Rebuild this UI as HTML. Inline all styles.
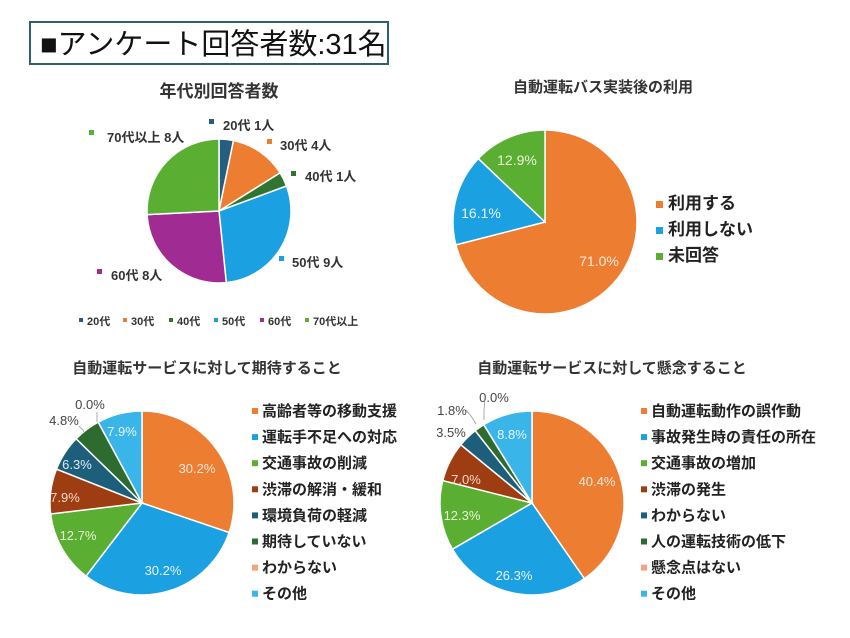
<!DOCTYPE html>
<html><head><meta charset="utf-8">
<style>
body{margin:0;background:#fff;}
svg{display:block;font-family:"Liberation Sans","Noto Sans CJK JP",sans-serif;}
.b{font-weight:bold}
</style></head><body>
<svg id="s" width="850" height="638" viewBox="0 0 850 638" xmlns="http://www.w3.org/2000/svg">
<rect width="850" height="638" fill="#fff"/>
<rect x="30" y="22" width="358" height="42" fill="#fff" stroke="#2F5F6F" stroke-width="2"/>
<text x="40" y="54" font-size="29" fill="#111">■アンケート回答者数:31名</text>
<g id="pies"></g>

<text x="219" y="97" font-size="17" class="b" text-anchor="middle" fill="#333">年代別回答者数</text>
<g font-size="13" class="b" fill="#333">
<rect x="209" y="119" width="5" height="5" fill="#255E7E"/><text x="223" y="130">20代 1人</text>
<rect x="267" y="139" width="5" height="5" fill="#ED7D31"/><text x="280" y="150">30代 4人</text>
<rect x="291" y="171" width="5" height="5" fill="#2F7431"/><text x="305" y="181">40代 1人</text>
<rect x="279" y="256" width="5" height="5" fill="#1BA1E2"/><text x="292" y="267">50代 9人</text>
<rect x="97" y="269" width="5" height="5" fill="#A02B93"/><text x="111" y="280">60代 8人</text>
<rect x="89" y="130" width="5" height="5" fill="#5AAE32"/><text x="107" y="142">70代以上 8人</text>
</g>
<g font-size="11" class="b" fill="#333">
<rect x="79" y="318" width="4" height="4" fill="#255E7E"/><text x="87" y="325">20代</text>
<rect x="123" y="318" width="4" height="4" fill="#ED7D31"/><text x="131" y="325">30代</text>
<rect x="169" y="318" width="4" height="4" fill="#2F7431"/><text x="177" y="325">40代</text>
<rect x="214" y="318" width="4" height="4" fill="#1BA1E2"/><text x="222" y="325">50代</text>
<rect x="260" y="318" width="4" height="4" fill="#A02B93"/><text x="268" y="325">60代</text>
<rect x="305" y="318" width="4" height="4" fill="#5AAE32"/><text x="313" y="325">70代以上</text>
</g>

<text x="603" y="92" font-size="15" class="b" text-anchor="middle" fill="#333">自動運転バス実装後の利用</text>
<g font-size="17" class="b" fill="#222">
<rect x="656" y="201" width="7" height="7" fill="#ED7D31"/><text x="668" y="209">利用する</text>
<rect x="656" y="227" width="7" height="7" fill="#1BA1E2"/><text x="668" y="235">利用しない</text>
<rect x="656" y="253" width="7" height="7" fill="#5AAE32"/><text x="668" y="261">未回答</text>
</g>
<g font-size="14" text-anchor="middle">
<text x="517" y="165" fill="#e8f5d8">12.9%</text>
<text x="481" y="218" fill="#e6f4fb">16.1%</text>
<text x="599" y="266" fill="#fde8dc">71.0%</text>
</g>

<text x="207" y="373" font-size="15" class="b" text-anchor="middle" fill="#333">自動運転サービスに対して期待すること</text>
<text x="612" y="373" font-size="15" class="b" text-anchor="middle" fill="#333">自動運転サービスに対して懸念すること</text>
<g id="leg"></g>
<g font-size="13" text-anchor="middle">
<text x="197" y="473" fill="#fde8dc">30.2%</text>
<text x="163" y="575" fill="#e6f4fb">30.2%</text>
<text x="78" y="540" fill="#e8f5d8">12.7%</text>
<text x="65" y="502" fill="#f8d8c8">7.9%</text>
<text x="77" y="469" fill="#d8eef8">6.3%</text>
<text x="122" y="436" fill="#e6f4fb">7.9%</text>
<text x="64" y="425" fill="#444">4.8%</text>
<text x="90" y="409" fill="#444">0.0%</text>
<text x="597" y="486" fill="#fde8dc">40.4%</text>
<text x="514" y="580" fill="#e6f4fb">26.3%</text>
<text x="462" y="520" fill="#e8f5d8">12.3%</text>
<text x="466" y="484" fill="#f8d8c8">7.0%</text>
<text x="512" y="439" fill="#e6f4fb">8.8%</text>
<text x="451" y="437" fill="#444">3.5%</text>
<text x="452" y="415" fill="#444">1.8%</text>
<text x="494" y="402" fill="#444">0.0%</text>
</g>
<g stroke="#999" fill="none" stroke-width="0.8">
<polyline points="79,426 83,430 84,432"/>
<polyline points="97,412 97,422"/>
<polyline points="466,410 471,416 476,424"/>
<polyline points="485,400 484,410 484,420"/>
</g>
</svg>
<script>
const NS="http://www.w3.org/2000/svg";
const g=document.getElementById('pies');
function pie(cx,cy,r,vals,cols){
 const t=vals.reduce((a,b)=>a+b,0);let a=-Math.PI/2;
 vals.forEach((v,i)=>{ if(v<=0)return;
  const b=a+v/t*2*Math.PI;
  const x1=cx+r*Math.cos(a),y1=cy+r*Math.sin(a),x2=cx+r*Math.cos(b),y2=cy+r*Math.sin(b);
  const p=document.createElementNS(NS,'path');
  p.setAttribute('d',`M${cx},${cy}L${x1},${y1}A${r},${r} 0 ${(b-a)>Math.PI?1:0} 1 ${x2},${y2}Z`);
  p.setAttribute('fill',cols[i]);p.setAttribute('stroke','#fff');p.setAttribute('stroke-width','1.5');
  g.appendChild(p);a=b;});
}
pie(219,211,72,[1,4,1,9,8,8],['#255E7E','#ED7D31','#2F7431','#1BA1E2','#A02B93','#5AAE32']);
pie(545,222,92,[71.0,16.1,12.9],['#ED7D31','#1BA1E2','#5AAE32']);
const c8=['#ED7D31','#1BA1E2','#5AAE32','#9E3D12','#1D5F7A','#2E6B2E','#F4A47A','#3AB5EA'];
pie(142,503,92,[30.2,30.2,12.7,7.9,6.3,4.8,0,7.9],c8);
pie(532,503,92,[40.4,26.3,12.3,7.0,3.5,1.8,0,8.8],c8);
const L=document.getElementById('leg');
function leg(x,items){items.forEach((s,i)=>{const y=416+i*26.1;
 const r=document.createElementNS(NS,'rect');r.setAttribute('x',x);r.setAttribute('y',y-8);r.setAttribute('width',6);r.setAttribute('height',6);r.setAttribute('fill',c8[i]);L.appendChild(r);
 const t=document.createElementNS(NS,'text');t.setAttribute('x',x+10);t.setAttribute('y',y);t.setAttribute('font-size','15');t.setAttribute('font-weight','bold');t.setAttribute('fill','#222');t.textContent=s;L.appendChild(t);});}
leg(252,['高齢者等の移動支援','運転手不足への対応','交通事故の削減','渋滞の解消・緩和','環境負荷の軽減','期待していない','わからない','その他']);
leg(641,['自動運転動作の誤作動','事故発生時の責任の所在','交通事故の増加','渋滞の発生','わからない','人の運転技術の低下','懸念点はない','その他']);
</script>
</body></html>
